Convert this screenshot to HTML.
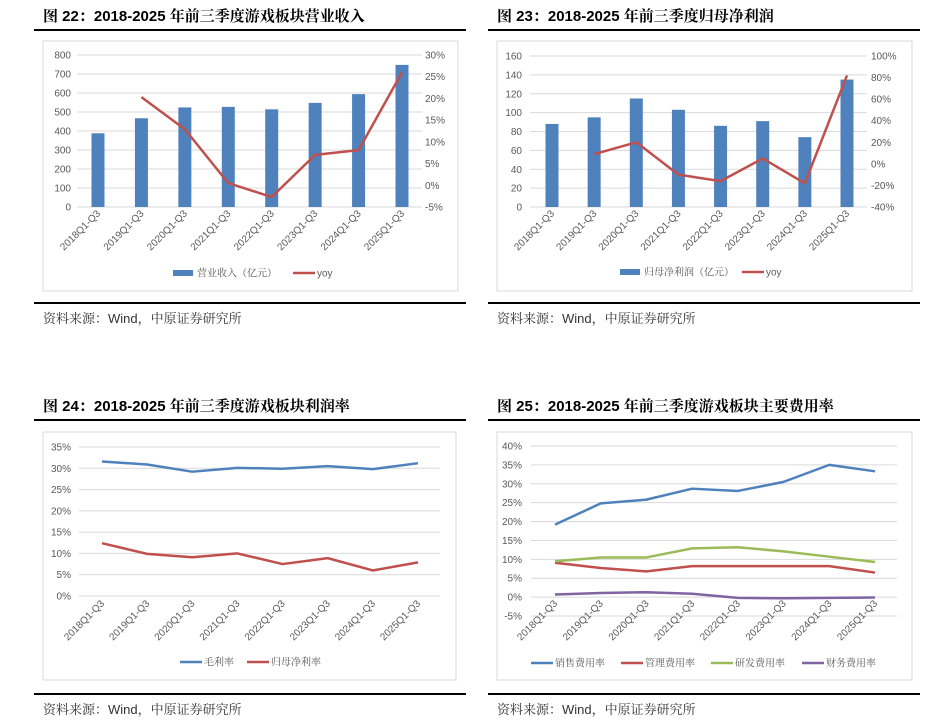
<!DOCTYPE html>
<html><head><meta charset="utf-8">
<style>
body{margin:0;background:#fff;width:949px;height:721px;overflow:hidden;font-family:"Liberation Sans","Noto Sans CJK SC",sans-serif;}
svg{position:absolute;left:0;top:0}
.serif{font-family:"Liberation Sans","Noto Serif CJK SC",serif;}
</style></head>
<body>
<svg id="s" width="949" height="721"></svg>
<script>
const cats=["2018Q1-Q3","2019Q1-Q3","2020Q1-Q3","2021Q1-Q3","2022Q1-Q3","2023Q1-Q3","2024Q1-Q3","2025Q1-Q3"];
const revenue=[388,467,524,527,514,548,594,748];
const revenueYoy=[null,20.3,12.9,0.5,-2.7,7.0,8.1,26.0];
const profit=[88,95,115,103,86,91,74,135];
const profitYoy=[null,9,20,-10,-16,5,-18,82];
const grossMargin=[31.6,30.9,29.2,30.1,29.9,30.5,29.8,31.2];
const netMargin=[12.4,9.9,9.1,10.0,7.5,8.9,6.0,7.9];
const salesRate=[19.2,24.8,25.8,28.7,28.1,30.5,35.0,33.3];
const mgmtRate=[9.1,7.7,6.8,8.2,8.2,8.2,8.2,6.5];
const rdRate=[9.5,10.5,10.5,12.9,13.2,12.1,10.7,9.3];
const finRate=[0.7,1.1,1.3,0.9,-0.2,-0.3,-0.2,-0.1];
const ticks1=[0,100,200,300,400,500,600,700,800];
const ticks1r=[-5,0,5,10,15,20,25,30];
const ticks2=[0,20,40,60,80,100,120,140,160];
const ticks2r=[-40,-20,0,20,40,60,80,100];
const ticks3=[0,5,10,15,20,25,30,35];
const ticks4=[-5,0,5,10,15,20,25,30,35,40];

const S=document.getElementById('s');const NS="http://www.w3.org/2000/svg";
function el(t,a,txt,p){const e=document.createElementNS(NS,t);for(const k in a)e.setAttribute(k,a[k]);if(txt!=null)e.textContent=txt;(p||S).appendChild(e);return e;}
const BLUE="#4f81bd",RED="#c0504d",GREEN="#9bbb59",PURPLE="#8064a2",GREY="#595959";

function header(x,y,title,name){
  const t=el('text',{x:x,y:y,'font-size':15,'font-weight':'bold',fill:'#000',class:'serif'},title);
  
  el('line',{x1:x-9,x2:x+423,y1:y+9,y2:y+9,stroke:'#000','stroke-width':2});
}
function footer(x,y,name){
  el('line',{x1:x-9,x2:x+423,y1:y,y2:y,stroke:'#000','stroke-width':2});
  const t=el('text',{x:x,y:y+20,'font-size':13,fill:'#333',class:'serif'},'资料来源：Wind，中原证券研究所');
  
}
function chart(o){
  const g=el('g',{});
  el('rect',{x:o.px,y:o.py,width:o.pw,height:o.ph,fill:'#fff',stroke:'#d9d9d9'},null,g);
  const yL=v=>o.y0+(v-o.lmin)/(o.lmax-o.lmin)*(o.y1-o.y0);
  const yR=o.rmin!=null?(v=>o.y0+(v-o.rmin)/(o.rmax-o.rmin)*(o.y1-o.y0)):yL;
  const xC=i=>o.xa+i*(o.xb-o.xa)/(cats.length-1);
  o.lt.forEach(v=>{el('line',{x1:o.gx0,x2:o.gx1,y1:yL(v),y2:yL(v),stroke:'#d9d9d9'},null,g);
    const t=el('text',{x:o.lx,y:yL(v)+3.5,'font-size':10,fill:GREY,'text-anchor':'end'},o.pct?v+'%':v,g);
    });
  if(o.rt)o.rt.forEach(v=>{const t=el('text',{x:o.rx,y:yR(v)+3.5,'font-size':10,fill:GREY},v+'%',g);
    });
  cats.forEach((c,i)=>{const x=xC(i)+3,y=o.xly;
    const t=el('text',{x:x,y:y,'font-size':10,fill:GREY,'text-anchor':'end',transform:`rotate(-45 ${x} ${y})`},c,g);
    });
  if(o.bars){o.bars.forEach((v,i)=>{const r=el('rect',{x:xC(i)-6.5,y:yL(v),width:13,height:yL(0)-yL(v),fill:BLUE},null,g);
    });}
  (o.lines||[]).forEach(L=>{const f=L.right?yR:yL;let d='';L.data.forEach((v,i)=>{if(v==null)return;d+=(d?'L':'M')+xC(i)+','+f(v);});
    const p=el('path',{d:d,fill:'none',stroke:L.color,'stroke-width':2.5,'stroke-linejoin':'round'},null,g);
    });
  o.legend.forEach(l=>{const lg=el('g',{},null,g);
    if(l.box)el('rect',{x:l.x,y:o.ly-3,width:20,height:6,fill:l.color},null,lg);
    else el('line',{x1:l.x,x2:l.x+22,y1:o.ly,y2:o.ly,stroke:l.color,'stroke-width':2.5},null,lg);
    el('text',{x:l.x+24,y:o.ly+3.5,'font-size':10,fill:GREY,class:'serif'},l.t,lg);});
}
header(43,21,'图 22：2018-2025 年前三季度游戏板块营业收入','chart22');
header(497,21,'图 23：2018-2025 年前三季度归母净利润','chart23');
header(43,411,'图 24：2018-2025 年前三季度游戏板块利润率','chart24');
header(497,411,'图 25：2018-2025 年前三季度游戏板块主要费用率','chart25');
footer(43,303,'chart22');footer(497,303,'chart23');footer(43,694,'chart24');footer(497,694,'chart25');

chart({name:'revenue-chart',px:43,py:41,pw:415,ph:250,y0:207,y1:55,lmin:0,lmax:800,rmin:-5,rmax:30,lt:ticks1,rt:ticks1r,
 gx0:77,gx1:422,lx:71,rx:425,xa:98,xb:402,xly:214,bars:revenue,
 lines:[{data:revenueYoy,color:RED,right:true,nm:'yoy'}],ly:273,
 legend:[{x:173,color:BLUE,box:1,t:'营业收入（亿元）'},{x:293,color:RED,t:'yoy'}]});
chart({name:'profit-chart',px:497,py:41,pw:415,ph:250,y0:207,y1:56,lmin:0,lmax:160,rmin:-40,rmax:100,lt:ticks2,rt:ticks2r,
 gx0:530,gx1:867,lx:522,rx:871,xa:552,xb:847,xly:214,bars:profit,
 lines:[{data:profitYoy,color:RED,right:true,nm:'yoy'}],ly:272,
 legend:[{x:620,color:BLUE,box:1,t:'归母净利润（亿元）'},{x:742,color:RED,t:'yoy'}]});
chart({name:'margin-chart',px:43,py:432,pw:413,ph:248,y0:596,y1:447,lmin:0,lmax:35,lt:ticks3,pct:1,
 gx0:79,gx1:440,lx:71,xa:102,xb:418,xly:604,
 lines:[{data:grossMargin,color:BLUE,nm:'gross-margin'},{data:netMargin,color:RED,nm:'net-margin'}],ly:662,
 legend:[{x:180,color:BLUE,t:'毛利率'},{x:247,color:RED,t:'归母净利率'}]});
chart({name:'expense-chart',px:497,py:432,pw:415,ph:248,y0:616,y1:446,lmin:-5,lmax:40,lt:ticks4,pct:1,
 gx0:531,gx1:897,lx:522,xa:555,xb:875,xly:604,
 lines:[{data:salesRate,color:BLUE,nm:'sales-rate'},{data:mgmtRate,color:RED,nm:'mgmt-rate'},{data:rdRate,color:GREEN,nm:'rd-rate'},{data:finRate,color:PURPLE,nm:'finance-rate'}],ly:663,
 legend:[{x:531,color:BLUE,t:'销售费用率'},{x:621,color:RED,t:'管理费用率'},{x:711,color:GREEN,t:'研发费用率'},{x:802,color:PURPLE,t:'财务费用率'}]});
</script>
</body></html>
